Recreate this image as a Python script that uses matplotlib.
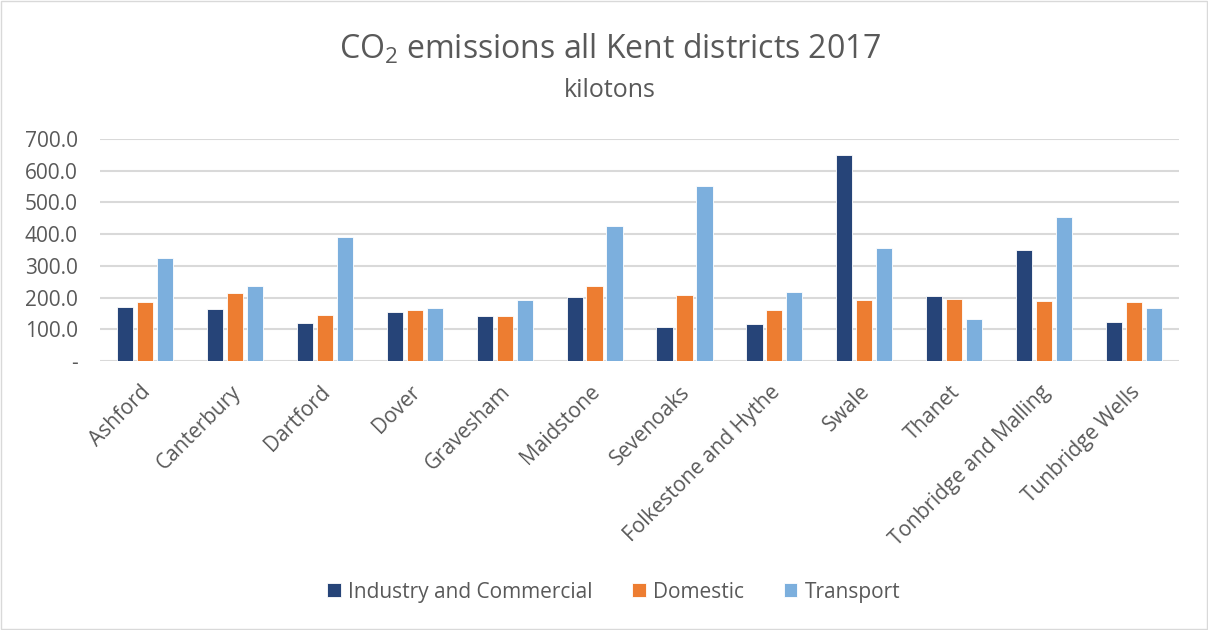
import numpy as np
import matplotlib.pyplot as plt
from matplotlib.ticker import FixedLocator

plt.rcParams['font.family'] = ['Open Sans', 'DejaVu Sans']
plt.rcParams['mathtext.fontset'] = 'custom'
plt.rcParams['mathtext.rm'] = 'Open Sans'
plt.rcParams['mathtext.it'] = 'Open Sans'

districts = ['Ashford', 'Canterbury', 'Dartford', 'Dover', 'Gravesham', 'Maidstone',
             'Sevenoaks', 'Folkestone and Hythe', 'Swale', 'Thanet',
             'Tonbridge and Malling', 'Tunbridge Wells']
industry = [169, 164, 121, 155, 143, 201, 107, 116, 650, 205, 349, 124]
domestic = [187, 215, 144, 160, 141, 238, 208, 162, 193, 195, 190, 187]
transport = [325, 238, 392, 168, 193, 427, 553, 216, 356, 132, 455, 167]

series = ['Industry and Commercial', 'Domestic', 'Transport']
colors = ['#264478', '#ED7D31', '#7CAFDD']
yticks = [0, 100, 200, 300, 400, 500, 600, 700]

text_col = '#595959'

fig = plt.figure(figsize=(12.08, 6.30), dpi=100)
ax = fig.add_axes([0.0828, 0.427, 0.8932, 0.3524])

x = np.arange(len(districts))
w = 0.18
for i, (vals, name, c) in enumerate(zip([industry, domestic, transport], series, colors)):
    ax.bar(x + (i - 1) * 0.222, vals, width=w, color=c, label=name,
           edgecolor='white', linewidth=0.6, zorder=3)

ax.set_xlim(-0.5, len(districts) - 0.5)
ax.set_ylim(0, 700)
ax.yaxis.set_major_locator(FixedLocator(yticks))
ax.set_yticklabels(['-' if v == 0 else f'{v:.1f}' for v in yticks],
                   fontsize=15, color=text_col)
ax.grid(axis='y', color='#D9D9D9', linewidth=1.5, zorder=0)
ax.tick_params(axis='y', length=0, pad=16)
ax.tick_params(axis='x', length=0, pad=20)
for s in ax.spines.values():
    s.set_visible(False)

ax.set_xticks(x + 0.03)
ax.set_xticklabels(districts, rotation=45, ha='right', va='center',
                   rotation_mode='anchor', fontsize=15, color=text_col)

fig.text(0.505, 0.922, r'CO$_2$ emissions all Kent districts 2017', ha='center',
         va='center', fontsize=23, color=text_col)
fig.text(0.505, 0.857, 'kilotons', ha='center', va='center', fontsize=18, color=text_col)

fig.legend(loc='center', bbox_to_anchor=(0.508, 0.06), ncol=3, frameon=False,
           fontsize=15, labelcolor=text_col, handlelength=0.65, handleheight=0.65,
           handletextpad=0.35, columnspacing=1.9)

fig.add_artist(plt.Rectangle((0.001, 0.002), 0.998, 0.996, transform=fig.transFigure,
                             fill=False, edgecolor='#D9D9D9', linewidth=1))

fig.savefig('out.png', dpi=100)
